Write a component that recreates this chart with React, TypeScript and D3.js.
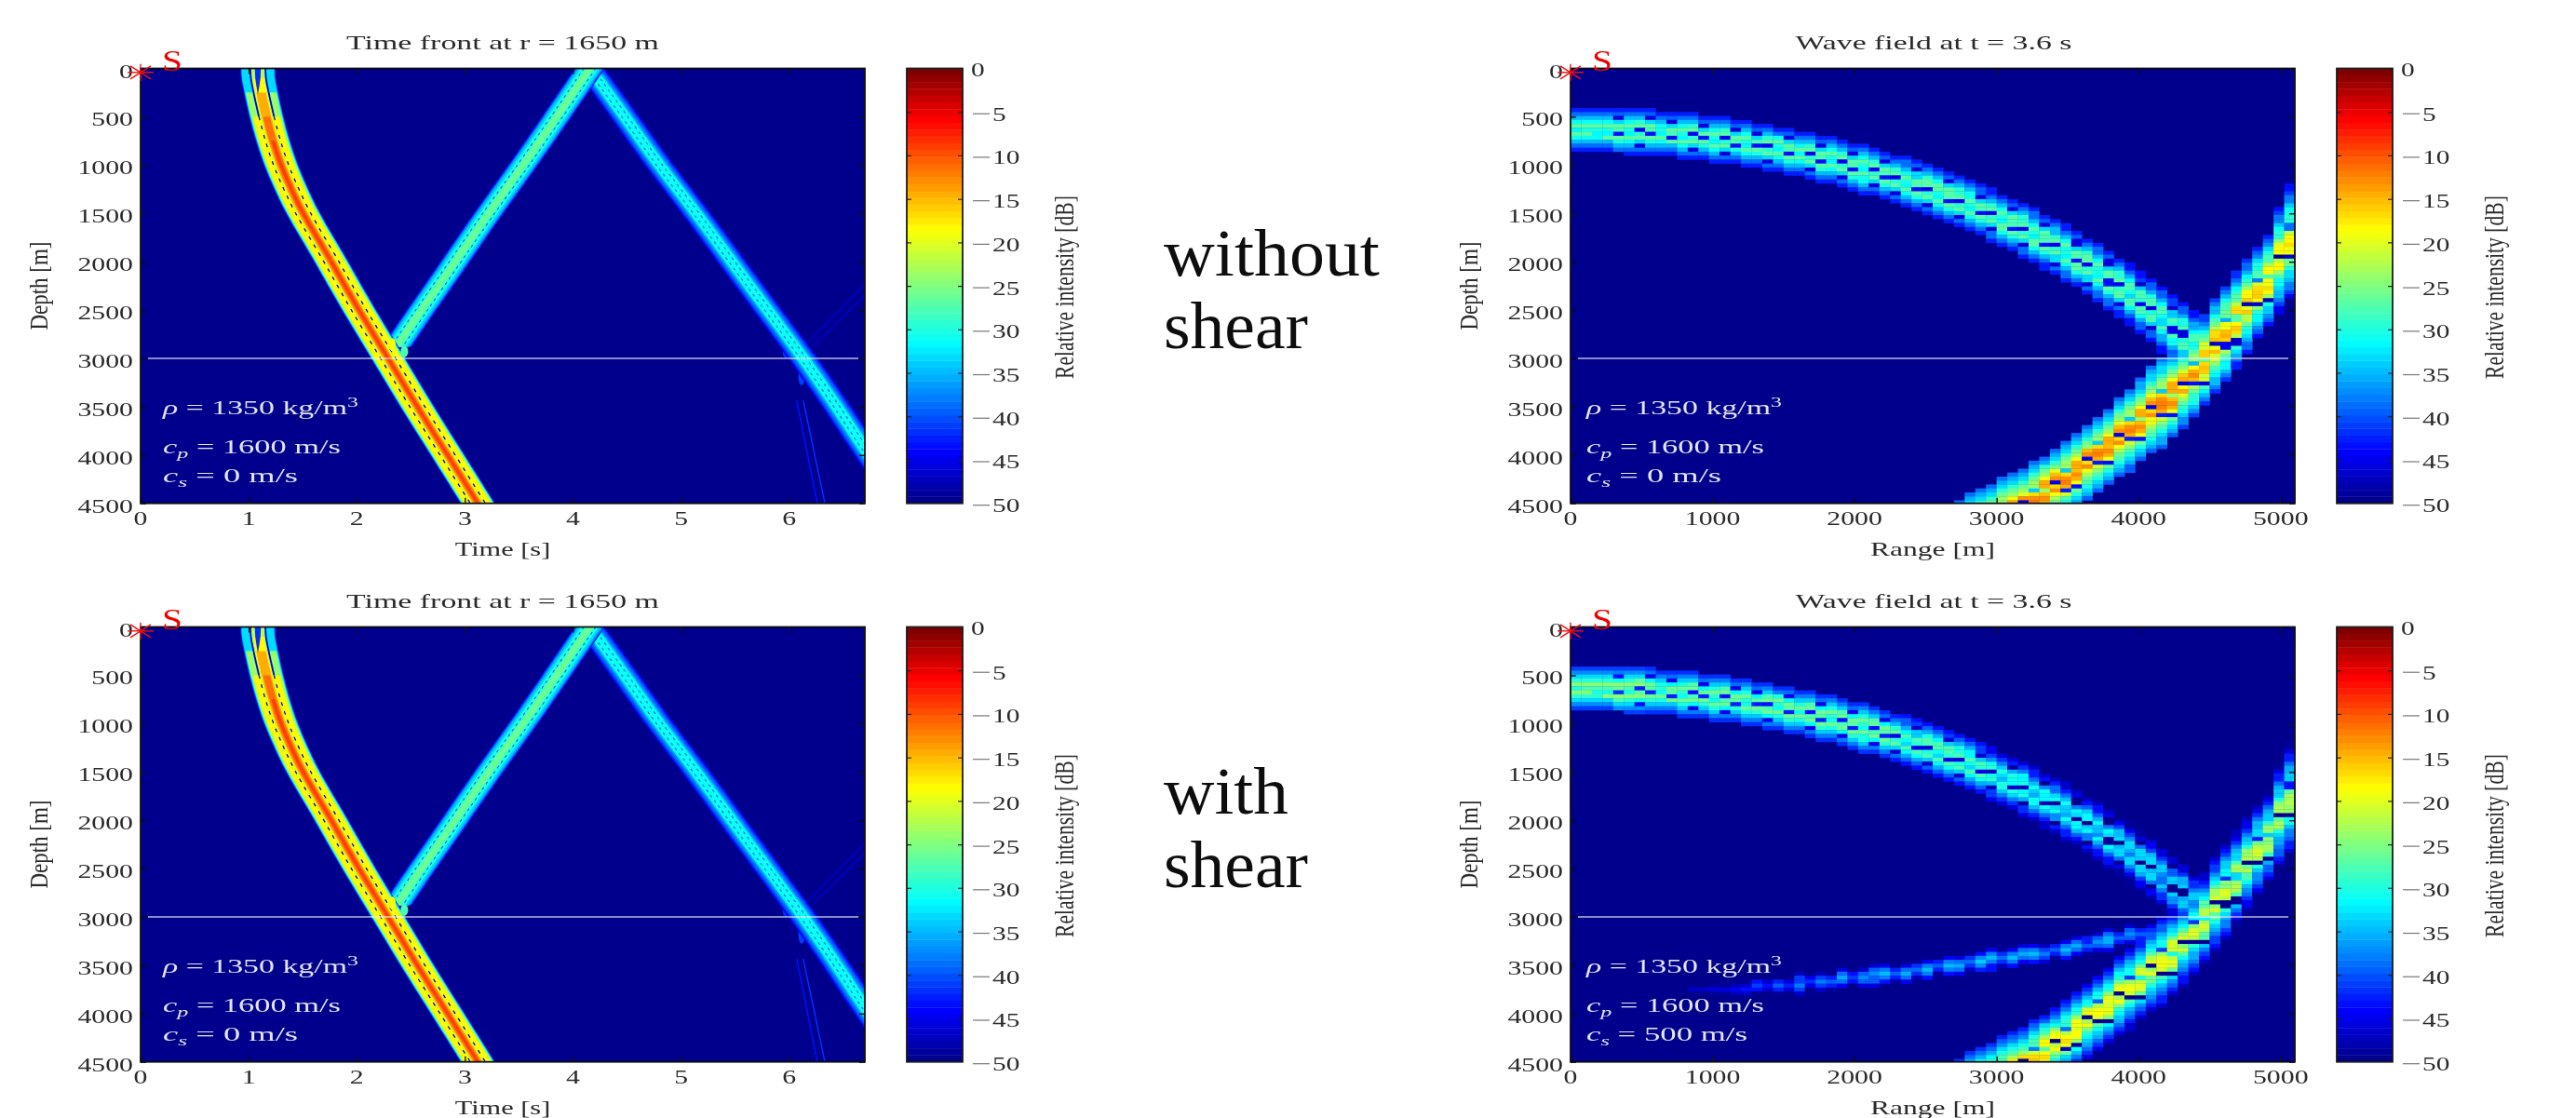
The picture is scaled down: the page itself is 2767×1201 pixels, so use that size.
import React, { useRef, useEffect } from 'react';
import * as d3 from 'd3';

const WIDTH = 2767;
const HEIGHT = 1201;

// axes
const timeTicks = [0, 1, 2, 3, 4, 5, 6];
const rangeTicks = [0, 1000, 2000, 3000, 4000, 5000];
const depthTicks = [0, 500, 1000, 1500, 2000, 2500, 3000, 3500, 4000, 4500];
const dbTicks = [0, -5, -10, -15, -20, -25, -30, -35, -40, -45, -50];
const interfaceDepth = 3000;

// jet colormap, 64 steps as in the colorbar
const jetLevels = [-50, -44.4, -31.6, -18.4, -5.6, 0];
const jetColors = ['#00008c', '#0000ff', '#00ffff', '#ffff00', '#ff0000', '#7f0000'];

// time front: centre lines
const mainDepths = [0, 100, 250, 500, 750, 1000, 1250, 1500, 2000, 2500, 3000, 3500, 4000, 4500];
const mainTimes = [1.085, 1.09, 1.115, 1.165, 1.225, 1.3, 1.395, 1.505, 1.765, 2.02, 2.29, 2.56, 2.84, 3.12];
const upDepths = [0, 500, 1000, 1500, 2000, 2500, 2880];
const upTimes = [4.156, 3.85, 3.54, 3.22, 2.91, 2.6, 2.37];
const downDepths = [0, 500, 1000, 1500, 2000, 2500, 3000, 3500, 3936, 4500];
const downTimes = [4.156, 4.48, 4.8, 5.14, 5.47, 5.8, 6.13, 6.44, 6.7, 7.05];

// [half width in s, level in dB, first depth]
const mainLayers = [
  [0.162, -44, 0], [0.156, -38, 0], [0.15, -33, 0], [0.145, -28, 150], [0.138, -24, 250],
  [0.128, -20, 350], [0.11, -18, 500], [0.062, -22, 0], [0.052, -18, 100],
  [0.045, -14, 250], [0.032, -11, 500], [0.016, -9, 750],
];
const upLayers = [
  [0.14, -44, 0], [0.13, -40, 0], [0.118, -36, 0], [0.1, -33, 0], [0.08, -30, 0], [0.045, -28, 0], [0.03, -26, 0],
];
const downLayers = [
  [0.14, -45, 0], [0.125, -42, 0], [0.11, -40, 0], [0.09, -37, 0], [0.07, -33, 0], [0.055, -31, 0],
];
const mainNullOffsets = [-0.07, 0.07];
const upNullOffsets = [-0.055, 0.055];
const downNullOffsets = [-0.028, 0.028];

// surface notch between the two strong stripes of the main front
const notchDepths = [0, 100, 180, 260];
const notchHalf = [0.028, 0.024, 0.014, 0.002];

// faint arrivals and blobs near the interface: [time, depth, half time, half depth, dB]
const splashes = [
  [2.33, 2860, 0.03, 70, -19], [2.44, 2930, 0.035, 60, -28],
  [5.97, 2930, 0.03, 70, -42], [6.15, 2880, 0.025, 50, -40], [6.115, 3180, 0.03, 100, -41],
];
const faintLines = [
  { times: [6.07, 6.26], depths: [3436, 4500], level: -44 },
  { times: [6.13, 6.33], depths: [3436, 4500], level: -42 },
  { times: [6.14, 6.7], depths: [2873, 2240], level: -47 },
  { times: [6.22, 6.7], depths: [2873, 2340], level: -47 },
];

// wave field grid
const rangeStep = 75;
const depthStep = 41;

// upper (reflected) front per range column, from column 0
const upperCentre = [
  635, 636, 638, 641, 645, 651, 657, 664, 673, 682, 692, 704, 717, 731, 745, 762, 779, 797, 816, 837,
  859, 881, 905, 931, 957, 985, 1014, 1044, 1076, 1109, 1143, 1179, 1216, 1255, 1295, 1337, 1380, 1425, 1472, 1520,
  1570, 1622, 1676, 1732, 1790, 1850, 1912, 1977, 2044, 2114, 2186, 2261, 2339, 2421, 2505, 2593, 2685, 2780, 2880,
];
const upperHalf = [
  235, 235, 235, 235, 235, 235, 235, 235, 235, 235, 235, 235, 235, 235, 235, 235, 235, 235, 235, 240,
  240, 240, 245, 245, 245, 250, 250, 250, 255, 255, 255, 260, 260, 260, 265, 265, 265, 270, 270, 270,
  275, 280, 280, 285, 285, 290, 295, 295, 300, 300, 305, 310, 315, 320, 330, 340, 350, 360, 375,
];
const upperPhase = [
  0, 0, 0, 0, 1, 0, 2, 1, 0, 1, 0, 2, 1, 0, 2, 1, 0, 1, 2, 0,
  1, 0, 2, 1, 0, 2, 1, 0, 2, 1, 2, 0, 1, 2, 0, 1, 2, 0, 1, 2,
  0, 1, 2, 0, 1, 2, 0, 1, 2, 0, 1, 2, 0, 1, 2, 0, 1, 2, 0,
];
const upperGainTop = [
  0, 0, 0, 0, 0, 0, 0, 0, 0, 0, 0, 0, 0, 0, 0, 0, 0, 0, 0, 0,
  0, 0, 0, 0, 0, 0, 0, 0, 0, 0, 0, 0, 0, 0, 0, 0, 0, 0, 0, 0,
  0, 0, 0, 0, 0, 0, 0, 0, 0, 0, 0, 0, -1, -1, -1, -1, -1, -1, -1,
];
const upperGainBottom = [
  2, 2, 2, 2, 2, 2, 2, 1, 1, 1, 1, 1, 1, 1, 1, 1, 1, 1, 1, 1,
  1, 1, 1, 1, 1, 1, 1, 1, 1, 1, 0, -1, -1, -1, -1, -1, -1, -1, -1, -2,
  -3, -3, -3, -4, -4, -4, -4, -5, -5, -5, -5, -6, -6, -6, -6, -7, -7, -7, -7,
];
const upperProfiles = [
  [-43, -39, -35, -31, -27, -30, -32, -27, -31, -35, -39, -43],
  [-43, -40, -46, -33, -27, -28, -44, -27, -30, -35, -39, -43],
  [-43, -39, -35, -29, -27, -45, -29, -27, -33, -46, -39, -43],
];

// lower (direct) front per range column, from column 36
const lowerStart = 36;
const lowerTop = [
  4480, 4404, 4356, 4308, 4243, 4195, 4147, 4067, 4003, 3922, 3842, 3762, 3681, 3601, 3521, 3408,
  3312, 3216, 3087, 3000, 2950, 2860, 2720, 2560, 2380, 2236, 2107, 1979, 1834, 1706, 1420, 1200,
];
const lowerBottom = [
  5220, 5150, 5130, 5060, 5000, 4950, 4900, 4850, 4780, 4720, 4650, 4560, 4468, 4372, 4308, 4243,
  4163, 4067, 3986, 3922, 3826, 3713, 3601, 3505, 3360, 3248, 3103, 2943, 2798, 2670, 2525, 2396,
];
const lowerPhase = [0, 1, 2, 0, 1, 2, 0, 1, 2, 0, 1, 2, 0, 1, 2, 0, 1, 2, 0, 1, 2, 0, 1, 2, 0, 1, 2, 0, 1, 2, 0, 1];
const lowerGainTop = [0, 0, 0, 0, 0, 0, 0, 0, 0, 0, 0, 0, 0, 0, 0, 0, 0, 0, 0, 0, 0, -1, -1, -2, -2, -2, -3, -3, -4, -4, -5, -5];
const lowerGainBottom = [-3, -3, -3, -3, -4, -4, -4, -4, -4, -5, -5, -5, -6, -6, -6, -6, -7, -7, -7, -7, -7, -8, -8, -8, -8, -8, -9, -9, -9, -10, -10, -10];
const lowerProfiles = [
  [-39, -36, -33, -29, -26, -24, -20, -15, -13, -45, -17, -13, -19, -23, -26, -28, -30, -33, -36, -40],
  [-39, -36, -33, -29, -26, -24, -24, -34, -17, -13, -12, -14, -43, -21, -25, -28, -30, -33, -36, -40],
  [-39, -36, -33, -29, -26, -24, -19, -14, -14, -24, -15, -13, -14, -19, -44, -26, -30, -33, -36, -40],
];

// shear wave in the lower right panel, from column 11
const shearStart = 11;
const shearCentre = [
  3764, 3761, 3758, 3752, 3748, 3738, 3726, 3716, 3709, 3697, 3691, 3684, 3675, 3658, 3639, 3629, 3619, 3607, 3590, 3581, 3571, 3555,
  3539, 3520, 3504, 3488, 3471, 3458, 3442, 3429, 3413, 3400, 3384, 3371, 3355, 3332, 3307, 3281, 3252, 3239, 3210, 3187, 3168, 3148,
];
const shearPeak = [
  -47, -47, -46, -46, -45, -44, -41, -44, -40, -43, -38, -42, -38, -40, -36, -41, -37, -37, -35, -40, -36, -39,
  -35, -40, -35, -36, -39, -34, -35, -39, -35, -36, -35, -38, -40, -35, -36, -40, -37, -36, -40, -37, -40, -42,
];
const shearProfile = [-10, -3, 0, -3, -9];

const panels = [
  { row: 0, cs: '0', lowerGain: lowerGainTop, upperGain: upperGainTop, shear: false, wordTop: 'without', wordsY: [296, 374] },
  { row: 1, cs: '500', lowerGain: lowerGainBottom, upperGain: upperGainBottom, shear: true, wordTop: 'with', wordsY: [874, 953] },
];

const FONT = '"Liberation Serif", serif';
const INK = '#2a2a2a';

const jetScale = d3.scaleLinear<string>().domain(jetLevels).range(jetColors).interpolate(d3.interpolateRgb).clamp(true);
const jet = (db: number) => jetScale(-50 + (Math.round(((db + 50) / 50) * 63) / 63) * 50);

// writes a text and stretches it to the measured width of the reference
function fitText(g: any, parts: any[], o: any) {
  const text = g.append('text')
    .attr('font-family', FONT)
    .attr('font-size', o.size)
    .attr('fill', o.fill || INK)
    .attr('text-anchor', o.anchor || 'start');
  let shift = 0;
  parts.forEach((p: any) => {
    const part = typeof p === 'string' ? { t: p } : p;
    const target = part.dy || 0;
    text.append('tspan')
      .attr('dy', target - shift)
      .attr('font-style', part.italic ? 'italic' : null)
      .attr('font-size', part.small ? o.size * 0.7 : null)
      .text(part.t);
    shift = target;
  });
  const natural = text.node().getComputedTextLength();
  const sx = o.width / natural;
  text.attr('transform', `translate(${o.x},${o.y}) rotate(${o.rotate || 0}) scale(${sx},1)`);
}

function drawFrame(g: any, x: any, y: any, xTicks: number[]) {
  const [x0, x1] = x.range();
  const [y0, y1] = y.range();
  const noLabel = () => '';
  const tick = (axis: any, dx: number, dy: number) => {
    const a = g.append('g').attr('transform', `translate(${dx},${dy})`).call(axis);
    a.select('.domain').remove();
    a.selectAll('line').attr('stroke', '#111').attr('stroke-width', 1.4);
  };
  tick(d3.axisBottom(x).tickValues(xTicks).tickSizeInner(-6).tickSizeOuter(0).tickFormat(noLabel), 0, y1);
  tick(d3.axisTop(x).tickValues(xTicks).tickSizeInner(-6).tickSizeOuter(0).tickFormat(noLabel), 0, y0);
  tick(d3.axisLeft(y).tickValues(depthTicks).tickSizeInner(-6).tickSizeOuter(0).tickFormat(noLabel), x0, 0);
  tick(d3.axisRight(y).tickValues(depthTicks).tickSizeInner(-6).tickSizeOuter(0).tickFormat(noLabel), x1, 0);
  g.append('rect').attr('x', x0).attr('y', y0).attr('width', x1 - x0).attr('height', y1 - y0)
    .attr('fill', 'none').attr('stroke', '#111').attr('stroke-width', 1.8);

  depthTicks.forEach(d => {
    const s = String(d);
    fitText(g, [s], { x: x0 - 8, y: y(d) + 10, width: s.length * 14.9, size: 21, anchor: 'end' });
  });
  xTicks.forEach(d => {
    const s = String(d);
    fitText(g, [s], { x: x(d), y: y1 + 23.5, width: s.length * 14.9, size: 21, anchor: 'middle' });
  });
  fitText(g, ['Depth [m]'], { x: x0 - 100, y: (y0 + y1) / 2, width: 95, size: 28, anchor: 'middle', rotate: -90 });
}

function drawCommon(g: any, x: any, y: any, cs: string) {
  const [x0, x1] = x.range();
  const yi = y(interfaceDepth);
  g.append('line').attr('x1', x0 + 8).attr('x2', x1 - 7).attr('y1', yi).attr('y2', yi)
    .attr('stroke', '#ffffff').attr('stroke-opacity', 0.72).attr('stroke-width', 1.6);

  const top = y(0);
  const white = '#e4e4ee';
  const tx = x.domain()[1] > 100 ? x0 + 17 : x0 + 24;
  fitText(g, [{ t: '\u03c1', italic: true }, ' = 1350 kg/m', { t: '3', small: true, dy: -8 }],
    { x: tx, y: top + 371.5, width: 210, size: 21, fill: white });
  fitText(g, [{ t: 'c', italic: true }, { t: 'p', italic: true, small: true, dy: 5 }, ' = 1600 m/s'],
    { x: tx, y: top + 413.5, width: 191, size: 21, fill: white });
  fitText(g, [{ t: 'c', italic: true }, { t: 's', italic: true, small: true, dy: 5 }, ` = ${cs} m/s`],
    { x: tx, y: top + 444, width: cs === '0' ? 145 : 173, size: 21, fill: white });

  // source marker
  const mx = x0;
  const my = top + 4.3;
  const star = g.append('g').attr('stroke', '#f01010').attr('stroke-width', 1.4).attr('fill', 'none');
  [[-14, 0, 14, 0], [0, -9, 0, 9], [-11, -7, 11, 7], [-11, 7, 11, -7]].forEach(s => {
    star.append('line').attr('x1', mx + s[0]).attr('y1', my + s[1]).attr('x2', mx + s[2]).attr('y2', my + s[3]);
  });
  fitText(g, ['S'], { x: x0 + 23, y: top + 2.5, width: 22, size: 31, fill: '#f00000' });
}

function drawTimeFront(root: any, row: number, top: number) {
  const x = d3.scaleLinear().domain([0, 6.7]).range([151, 929]);
  const y = d3.scaleLinear().domain([0, 4500]).range([top, top + 467.2]);
  const g = root.append('g');
  const clipId = `clip-time-${row}`;
  g.append('clipPath').attr('id', clipId).append('rect')
    .attr('x', 151).attr('y', top).attr('width', 778).attr('height', 467.2);
  const field = g.append('g').attr('clip-path', `url(#${clipId})`);
  field.append('rect').attr('x', 151).attr('y', top).attr('width', 778).attr('height', 467.2).attr('fill', jet(-50));

  const drawFront = (depths: number[], times: number[], layers: number[][], nulls: number[], strong: boolean) => {
    const pts = depths.map((z, i) => ({ z, t: times[i] }));
    layers.forEach(([half, level, from]) => {
      const area = d3.area<any>()
        .y(d => y(d.z)).x0(d => x(d.t - half)).x1(d => x(d.t + half))
        .curve(d3.curveCatmullRom);
      field.append('path').attr('d', area(pts.filter(p => p.z >= from))).attr('fill', jet(level));
    });
    nulls.forEach(off => {
      const line = d3.line<any>().x(d => x(d.t + off)).y(d => y(d.z)).curve(d3.curveCatmullRom);
      if (strong) {
        field.append('path').attr('d', line(pts.filter(p => p.z <= 500))).attr('fill', 'none')
          .attr('stroke', jet(-46)).attr('stroke-width', 1.8);
      }
      field.append('path').attr('d', line(pts.filter(p => p.z >= (strong ? 500 : 0)))).attr('fill', 'none')
        .attr('stroke', jet(strong ? -46 : -40)).attr('stroke-width', strong ? 1.3 : 1.1)
        .attr('stroke-dasharray', strong ? '4 6' : '3 4');
    });
  };

  faintLines.forEach(l => {
    const line = d3.line<any>().x((d, i) => x(l.times[i])).y(d => y(d));
    field.append('path').attr('d', line(l.depths as any)).attr('fill', 'none')
      .attr('stroke', jet(l.level)).attr('stroke-width', 1.5);
  });
  splashes.slice(2).forEach(s => {
    field.append('ellipse').attr('cx', x(s[0])).attr('cy', y(s[1]))
      .attr('rx', x(s[2]) - x(0)).attr('ry', y(s[3]) - y(0)).attr('fill', jet(s[4]));
  });
  drawFront(downDepths, downTimes, downLayers, downNullOffsets, false);
  drawFront(upDepths, upTimes, upLayers, upNullOffsets, false);
  drawFront(mainDepths, mainTimes, mainLayers, mainNullOffsets, true);
  splashes.slice(0, 2).forEach(s => {
    field.append('ellipse').attr('cx', x(s[0])).attr('cy', y(s[1]))
      .attr('rx', x(s[2]) - x(0)).attr('ry', y(s[3]) - y(0)).attr('fill', jet(s[4]));
  });
  const notch = d3.area<any>()
    .y((d: number) => y(d))
    .x0((d: number, i: number) => x(mainTimes[0] - notchHalf[i]))
    .x1((d: number, i: number) => x(mainTimes[0] + notchHalf[i]));
  field.append('path').attr('d', notch(notchDepths)).attr('fill', jet(-42));

  drawFrame(g, x, y, timeTicks);
  drawCommon(g, x, y, '0');
  fitText(g, ['Time front at r = 1650 m'], { x: 540, y: top - 20.8, width: 336, size: 21, anchor: 'middle' });
  fitText(g, ['Time [s]'], { x: 540, y: top + 523, width: 102.6, size: 21, anchor: 'middle' });
}

function drawWaveField(root: any, row: number, top: number, panel: any) {
  const x = d3.scaleLinear().domain([0, 5100]).range([1687, 2465]);
  const y = d3.scaleLinear().domain([0, 4500]).range([top, top + 467.2]);
  const g = root.append('g');
  const clipId = `clip-wave-${row}`;
  g.append('clipPath').attr('id', clipId).append('rect')
    .attr('x', 1687).attr('y', top).attr('width', 778).attr('height', 467.2);
  const field = g.append('g').attr('clip-path', `url(#${clipId})`);
  field.append('rect').attr('x', 1687).attr('y', top).attr('width', 778).attr('height', 467.2).attr('fill', jet(-50));

  const rows = d3.range(0, 4500 + depthStep, depthStep);
  const cells = new Map<string, number>();
  const put = (col: number, z: number, db: number) => {
    const key = `${col}|${z}`;
    const old = cells.get(key);
    if (old === undefined || db > old) cells.set(key, db);
  };

  const addBand = (col: number, a: number, b: number, profile: number[], gain: number, maxDepth: number) => {
    const pick = d3.scaleQuantize<number>().domain([a, b]).range(profile);
    rows.forEach(z => {
      if (z + depthStep / 2 >= a && z + depthStep / 2 <= b && z < maxDepth) {
        put(col, z, pick(z + depthStep / 2) + gain);
      }
    });
  };

  upperCentre.forEach((c, i) => {
    addBand(i, c - upperHalf[i], c + upperHalf[i], upperProfiles[upperPhase[i]], panel.upperGain[i], interfaceDepth + 30);
  });
  lowerTop.forEach((t, i) => {
    addBand(lowerStart + i, t, lowerBottom[i], lowerProfiles[lowerPhase[i]], panel.lowerGain[i], 4600);
  });
  if (panel.shear) {
    shearCentre.forEach((c, i) => {
      addBand(shearStart + i, c - 105, c + 105, shearProfile.map(d => d + shearPeak[i]), 0, 4600);
    });
  }

  const cw = x(rangeStep) - x(0);
  const ch = y(depthStep) - y(0);
  field.selectAll('rect.cell')
    .data(Array.from(cells.entries()))
    .join('rect')
    .attr('class', 'cell')
    .attr('x', (d: any) => x(+d[0].split('|')[0] * rangeStep))
    .attr('y', (d: any) => y(+d[0].split('|')[1]))
    .attr('width', cw + 0.3)
    .attr('height', ch + 0.3)
    .attr('fill', (d: any) => jet(d[1]));

  drawFrame(g, x, y, rangeTicks);
  drawCommon(g, x, y, panel.cs);
  fitText(g, ['Wave field at t = 3.6 s'], { x: 2077, y: top - 20.8, width: 297, size: 21, anchor: 'middle' });
  fitText(g, ['Range [m]'], { x: 2076, y: top + 523, width: 134, size: 21, anchor: 'middle' });
}

function drawColorbar(root: any, left: number, top: number) {
  const g = root.append('g');
  const barW = 60;
  const y = d3.scaleLinear().domain([0, -50]).range([top, top + 467.2]);
  const levels = d3.range(64);
  const h = 467.2 / 64;
  g.selectAll('rect.step').data(levels).join('rect')
    .attr('class', 'step')
    .attr('x', left).attr('width', barW)
    .attr('y', (d: number) => top + 467.2 - (d + 1) * h)
    .attr('height', h + 0.4)
    .attr('fill', (d: number) => jetScale(-50 + (d / 63) * 50));
  const inner = dbTicks.slice(1, -1);
  const side = (axis: any, dx: number) => {
    const a = g.append('g').attr('transform', `translate(${dx},0)`).call(axis);
    a.select('.domain').remove();
    a.selectAll('line').attr('stroke', '#222').attr('stroke-width', 1.2);
  };
  side(d3.axisLeft(y).tickValues(inner).tickSizeInner(-5).tickSizeOuter(0).tickFormat(() => ''), left);
  side(d3.axisRight(y).tickValues(inner).tickSizeInner(-5).tickSizeOuter(0).tickFormat(() => ''), left + barW);
  g.append('rect').attr('x', left).attr('y', top).attr('width', barW).attr('height', 467.2)
    .attr('fill', 'none').attr('stroke', '#1a1a1a').attr('stroke-width', 1.8);

  dbTicks.forEach(d => {
    const yy = y(d) + 8.5;
    if (d === 0) {
      fitText(g, ['0'], { x: left + 69, y: yy, width: 14.7, size: 21 });
      return;
    }
    const s = String(-d);
    g.append('line').attr('x1', left + 71).attr('x2', left + 89).attr('y1', y(d) + 2).attr('y2', y(d) + 2)
      .attr('stroke', '#777').attr('stroke-width', 1.2);
    fitText(g, [s], { x: left + 92, y: yy + 1, width: s.length * 14.7, size: 21 });
  });
  fitText(g, ['Relative intensity [dB]'], {
    x: left + 179, y: top + 235, width: 197, size: 30, anchor: 'middle', rotate: -90,
  });
}

const App = () => {
  const ref = useRef<SVGSVGElement>(null);

  useEffect(() => {
    const svg = d3.select(ref.current);
    svg.selectAll('*').remove();

    // the reference is a soft, upscaled scan
    svg.append('filter').attr('id', 'soft').attr('x', 0).attr('y', 0).attr('width', 1).attr('height', 1)
      .append('feGaussianBlur').attr('stdDeviation', 0.6);
    const root = svg.append('g').attr('filter', 'url(#soft)');
    root.append('rect').attr('width', WIDTH).attr('height', HEIGHT).attr('fill', '#fff');

    panels.forEach(p => {
      const top = p.row === 0 ? 73.5 : 673.5;
      drawTimeFront(root, p.row, top);
      drawColorbar(root, 974, top);
      drawWaveField(root, p.row, top, p);
      drawColorbar(root, 2510, top);

      const word = (s: string, yy: number, w: number) =>
        fitText(root, [s], { x: 1250, y: yy, width: w, size: 72, fill: '#111' });
      word(p.wordTop, p.wordsY[0], p.wordTop === 'with' ? 134 : 232);
      word('shear', p.wordsY[1], 155);
    });

    return () => {
      svg.selectAll('*').remove();
    };
  }, []);

  return (
    <svg
      ref={ref}
      width={WIDTH}
      height={HEIGHT}
      viewBox={`0 0 ${WIDTH} ${HEIGHT}`}
      style={{ position: 'absolute', left: 0, top: 0, background: '#fff' }}
    />
  );
};

export default App;
